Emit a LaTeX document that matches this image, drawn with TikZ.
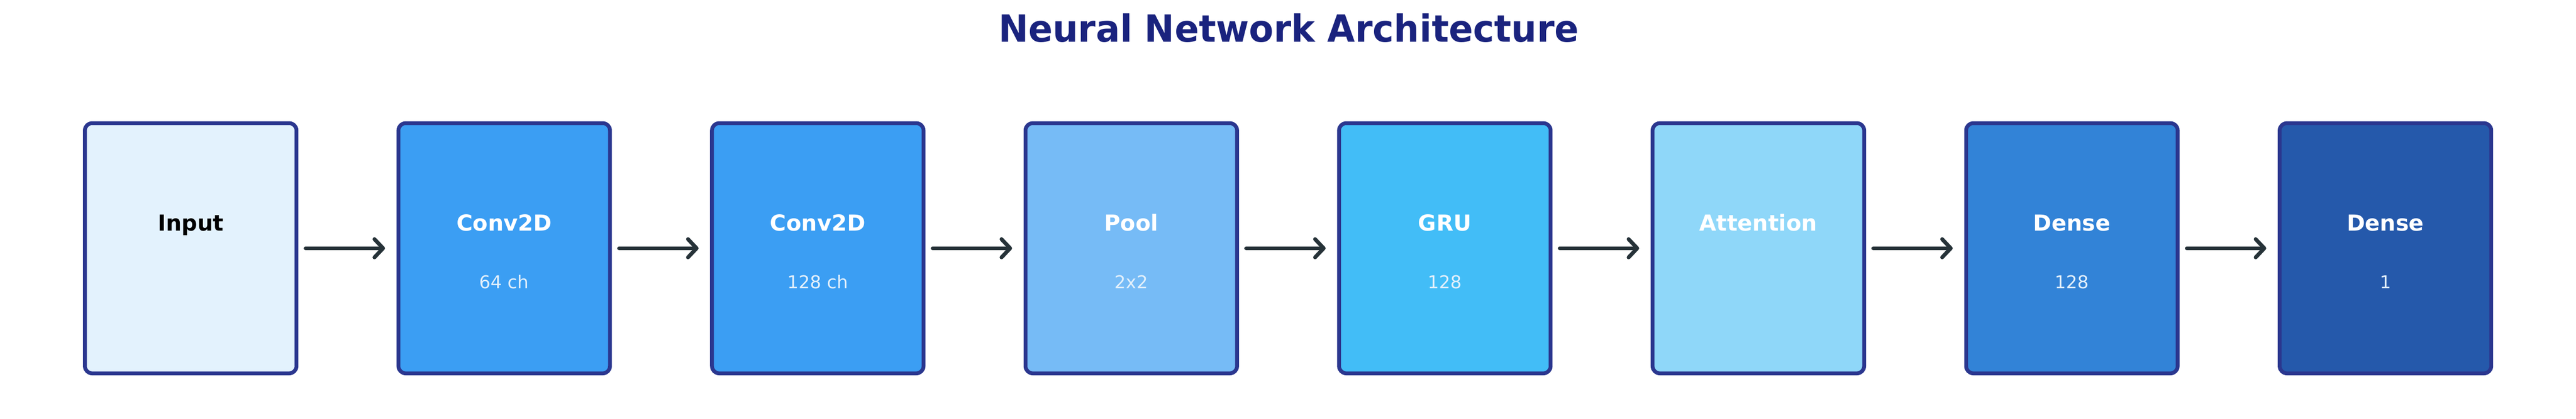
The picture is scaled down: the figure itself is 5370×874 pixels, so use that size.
\documentclass[tikz,border=0pt]{standalone}
\usepackage{fontspec}
\setmainfont{DejaVu Sans}
\usetikzlibrary{arrows.meta}
\definecolor{titlecol}{HTML}{1A237E}
\definecolor{edgecol}{HTML}{2B378F}
\definecolor{arrowcol}{HTML}{263238}
\definecolor{subcol}{HTML}{E3F0FB}
\definecolor{cInput}{HTML}{E3F2FD}
\definecolor{cConvA}{HTML}{3B9EF3}
\definecolor{cConvB}{HTML}{3B9EF3}
\definecolor{cPool}{HTML}{76BBF6}
\definecolor{cGRU}{HTML}{42BDF7}
\definecolor{cAtt}{HTML}{8FD7F9}
\definecolor{cDenseA}{HTML}{3283D7}
\definecolor{cDenseB}{HTML}{2559AB}
\tikzset{
  layerbox/.style={draw=edgecol, line width=8pt, rounded corners=15pt,
    minimum width=441pt, minimum height=522pt, inner sep=0pt},
  maintext/.style={anchor=base, font=\bfseries\fontsize{46}{55}\selectfont, text=white},
  subtext/.style={anchor=base, font=\fontsize{37}{44}\selectfont, text=subcol},
  flow/.style={draw=arrowcol, line width=8pt, line cap=round,
    -{Straight Barb[length=18pt,width=38pt,round]},
    shorten <=15pt, shorten >=24pt}
}
\begin{document}
\begin{tikzpicture}[x=1pt,y=1pt]
\useasboundingbox (0,0) rectangle (5370,874);
\begin{scope}[shift={(2686.5,786)}, xscale=0.956, transform shape]
\node[anchor=base, font=\bfseries\fontsize{78}{90}\selectfont, text=titlecol] (title) at (0,0) {Neural Network Architecture};
\end{scope}
% boxes
\node[layerbox, fill=cInput]  (b0) at (397.5,356) {};
\node[layerbox, fill=cConvA]  (b1) at (1051.1,356) {};
\node[layerbox, fill=cConvB]  (b2) at (1704.7,356) {};
\node[layerbox, fill=cPool]   (b3) at (2358.3,356) {};
\node[layerbox, fill=cGRU]    (b4) at (3011.9,356) {};
\node[layerbox, fill=cAtt]    (b5) at (3665.5,356) {};
\node[layerbox, fill=cDenseA] (b6) at (4319.1,356) {};
\node[layerbox, fill=cDenseB] (b7) at (4972.7,356) {};
% labels
\node[maintext, text=black] (t0) at (397.5,392) {Input};
\node[maintext] (t1) at (1051.1,392) {Conv2D};
\node[subtext]  (s1) at (1051.1,272) {64 ch};
\node[maintext] (t2) at (1704.7,392) {Conv2D};
\node[subtext]  (s2) at (1704.7,272) {128 ch};
\node[maintext] (t3) at (2358.3,392) {Pool};
\node[subtext]  (s3) at (2358.3,272) {2x2};
\node[maintext] (t4) at (3011.9,392) {GRU};
\node[subtext]  (s4) at (3011.9,272) {128};
\node[maintext] (t5) at (3665.5,392) {Attention};
\node[maintext] (t6) at (4319.1,392) {Dense};
\node[subtext]  (s6) at (4319.1,272) {128};
\node[maintext] (t7) at (4972.7,392) {Dense};
\node[subtext]  (s7) at (4972.7,272) {1};
% arrows
\foreach \a/\b in {b0/b1,b1/b2,b2/b3,b3/b4,b4/b5,b5/b6,b6/b7}
  \draw[flow] (\a.east) -- (\b.west);
\end{tikzpicture}
\end{document}
